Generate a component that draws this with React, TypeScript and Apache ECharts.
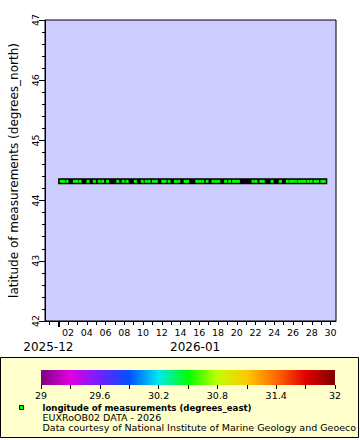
import React, { useEffect, useRef } from "react";
import * as echarts from "echarts";

const TIME_DAYS = [
  1.26, 1.52, 1.89, 2.67, 2.93, 3.29, 4.13, 4.8, 5.32, 5.69, 6.21, 7.3, 7.88,
  8.29, 9.18, 9.91, 10.32, 10.64, 11.1, 11.42, 12.09, 12.35, 12.77, 13.45, 13.81,
  14.49, 14.75, 15.74, 16.05, 16.36, 16.83, 17.46, 17.77, 18.08, 18.81, 19.23,
  19.65, 19.91, 20.17, 21.73, 22.04, 22.56, 22.82, 23.76, 24.65, 25.38, 25.74,
  26.0, 26.31, 26.68, 26.99, 27.25, 27.61, 27.93, 28.34, 28.6, 29.07, 29.33,
];
const STATION_LAT = 44.32;
const STATION_LON = 30.5;

const X_MIN_DAY = -0.46;
const X_MAX_DAY = 30.58;
const DAY_TICKS = [0, 1, 2, 3, 4, 5, 6, 7, 8, 9, 10, 11, 12, 13, 14, 15, 16, 17, 18, 19, 20, 21, 22, 23, 24, 25, 26, 27, 28, 29, 30];
const DAY_LABELS = [2, 4, 6, 8, 10, 12, 14, 16, 18, 20, 22, 24, 26, 28, 30];
const MONTH_START = [1];
const MONTH_LABEL_POS = [-0.1, 15.55];
const MONTH_LABELS = ["2025-12", "2026-01"];

const LAT_MIN = 42;
const LAT_MAX = 47;

const CBAR_MIN = 29;
const CBAR_MAX = 32;
const CBAR_LABELS = [29, 29.6, 30.2, 30.8, 31.4, 32];
const CBAR_TICKS = [29, 29.3, 29.6, 29.9, 30.2, 30.5, 30.8, 31.1, 31.4, 31.7, 32];
const PALETTE = [
  "#800080", "#e000e0", "#7020ff", "#0050ff", "#00e8f0", "#00ff00",
  "#c0ff00", "#ffc800", "#ff6a00", "#e00000", "#800000",
];

const LEGEND_TITLE = "longitude of measurements (degrees_east)";
const LEGEND_LINES = [
  "EUXRoOB02 DATA - 2026",
  "Data courtesy of National Institute of Marine Geology and Geoeco",
];

const FONT = "DejaVu Sans";
const MONTH_FONT_SIZE = 12;
const DAY_MS = 86400000;
const JAN1 = Date.UTC(2026, 0, 1);
const toMs = (d: number) => JAN1 + (d - 1) * DAY_MS;

function measure(text: string, size: number): number {
  const c = document.createElement("canvas").getContext("2d");
  if (!c) return text.length * size * 0.6;
  c.font = `${size}px "${FONT}"`;
  return c.measureText(text).width;
}

export default function App() {
  const ref = useRef<HTMLDivElement>(null);
  useEffect(() => {
    if (!ref.current) return;
    const chart = echarts.init(ref.current, undefined, { renderer: "svg" });
    const pts = TIME_DAYS.map((t) => [toMs(t), STATION_LAT, STATION_LON]);
    const fmt = (v: number) => (Number.isInteger(v) ? String(v) : v.toFixed(1));
    const xMin = toMs(X_MIN_DAY);
    const xMax = toMs(X_MAX_DAY);
    chart.setOption({
      animation: false,
      backgroundColor: "#ffffff",
      textStyle: { fontFamily: FONT, color: "#000" },
      grid: [
        {
          left: 37, right: 24, top: 20, bottom: 119,
          show: true, backgroundColor: "#ccccff", borderColor: "#000", borderWidth: 1,
        },
        { left: 41, width: 294, top: 370, height: 15, show: false },
      ],
      xAxis: [
        {
          type: "value", gridIndex: 0, min: xMin, max: xMax, position: "bottom",
          axisLine: { show: true, onZero: false, lineStyle: { color: "#000", width: 1 } },
          splitLine: { show: false },
          axisTick: { show: true, customValues: DAY_TICKS.map(toMs), length: 4, lineStyle: { color: "#000" } },
          axisLabel: {
            customValues: DAY_LABELS.map(toMs), color: "#000", fontFamily: FONT, fontSize: 9.5, margin: 6,
            formatter: (v: number) => String(new Date(v).getUTCDate()).padStart(2, "0"),
          },
        },
        {
          type: "value", gridIndex: 0, min: xMin, max: xMax, position: "bottom", offset: 0,
          axisLine: { show: false, onZero: false },
          splitLine: { show: false },
          axisTick: { show: true, customValues: MONTH_START.map(toMs), length: 6, lineStyle: { color: "#000", width: 2 } },
          axisLabel: { show: false },
        },
        {
          type: "value", gridIndex: 1, min: CBAR_MIN, max: CBAR_MAX, position: "bottom",
          axisLine: { show: false, onZero: false },
          splitLine: { show: false },
          axisTick: { show: true, customValues: CBAR_TICKS, length: 4, lineStyle: { color: "#000" } },
          axisLabel: {
            customValues: CBAR_LABELS, color: "#000", fontFamily: FONT, fontSize: 9.5, margin: 5,
            formatter: fmt,
          },
        },
      ],
      yAxis: [
        {
          type: "value", gridIndex: 0, min: LAT_MIN, max: LAT_MAX, interval: 1,
          name: "latitude of measurements (degrees_north)", nameLocation: "middle", nameGap: 25,
          nameTextStyle: { fontFamily: FONT, fontSize: 12, color: "#000" },
          axisLine: { show: true, onZero: false, lineStyle: { color: "#000" } },
          splitLine: { show: false },
          axisTick: { show: true, length: 6, lineStyle: { color: "#000" } },
          minorTick: { show: true, splitNumber: 5, length: 3, lineStyle: { color: "#000" } },
          minorSplitLine: { show: false },
          axisLabel: { rotate: 90, color: "#000", fontFamily: FONT, fontSize: 9.5, margin: 5, showMinLabel: true, showMaxLabel: true },
        },
        { type: "value", gridIndex: 1, min: 0, max: 1, show: false },
      ],
      visualMap: {
        type: "continuous", show: false, min: CBAR_MIN, max: CBAR_MAX, dimension: 2,
        seriesIndex: [1], inRange: { color: PALETTE },
      },
      series: [
        {
          type: "line", xAxisIndex: 0, yAxisIndex: 0, data: pts, showSymbol: false, silent: true,
          lineStyle: { color: "#000", width: 6, cap: "square" }, z: 2,
        },
        {
          type: "scatter", xAxisIndex: 0, yAxisIndex: 0, data: pts, symbol: "rect", symbolSize: 3,
          itemStyle: { opacity: 1 }, z: 3,
        },
      ],
      graphic: [
        {
          id: "legendBox", type: "rect", z: -10, shape: { x: 0.5, y: 357.5, width: 358, height: 80 },
          style: { fill: "#ffffcc", stroke: "#000", lineWidth: 1 },
        },
        {
          id: "cbar", type: "rect", z: 5, shape: { x: 41, y: 370, width: 294, height: 15 },
          style: {
            fill: new echarts.graphic.LinearGradient(0, 0, 1, 0,
              PALETTE.map((c, i) => ({ offset: i / (PALETTE.length - 1), color: c }))),
          },
        },
        {
          id: "legendSym", type: "rect", z: 5, shape: { x: 19.5, y: 405.5, width: 4, height: 4 },
          style: { fill: PALETTE[5], stroke: "#000", lineWidth: 1 },
        },
        {
          id: "legendTitle", type: "text", z: 5, x: 42.5, y: 408,
          style: { text: LEGEND_TITLE, fontFamily: FONT, fontSize: 8.6, fontWeight: "bold", fill: "#000", verticalAlign: "middle" },
        },
        ...LEGEND_LINES.map((t, i) => ({
          id: "legendLine" + i, type: "text", z: 5, x: 42.5, y: 417.5 + i * 9.5,
          style: { text: t, fontFamily: FONT, fontSize: 9.5, fill: "#000", verticalAlign: "middle" },
        })),
      ],
    });
    // Month labels centred on their position along the x axis scale
    const monthEls = MONTH_LABEL_POS.map((d, i) => {
      const px = chart.convertToPixel({ xAxisIndex: 0 }, toMs(d)) as number;
      const w = measure(MONTH_LABELS[i], MONTH_FONT_SIZE);
      return {
        id: "month" + i, type: "text", z: 5, x: px - w / 2, y: 347,
        style: { text: MONTH_LABELS[i], fontFamily: FONT, fontSize: MONTH_FONT_SIZE, fill: "#000", align: "left", verticalAlign: "middle" },
      };
    });
    chart.setOption({ graphic: monthEls });
    return () => chart.dispose();
  }, []);
  return (
    <div
      ref={ref}
      style={{ position: "fixed", left: 0, top: 0, width: 360, height: 440 }}
    />
  );
}
